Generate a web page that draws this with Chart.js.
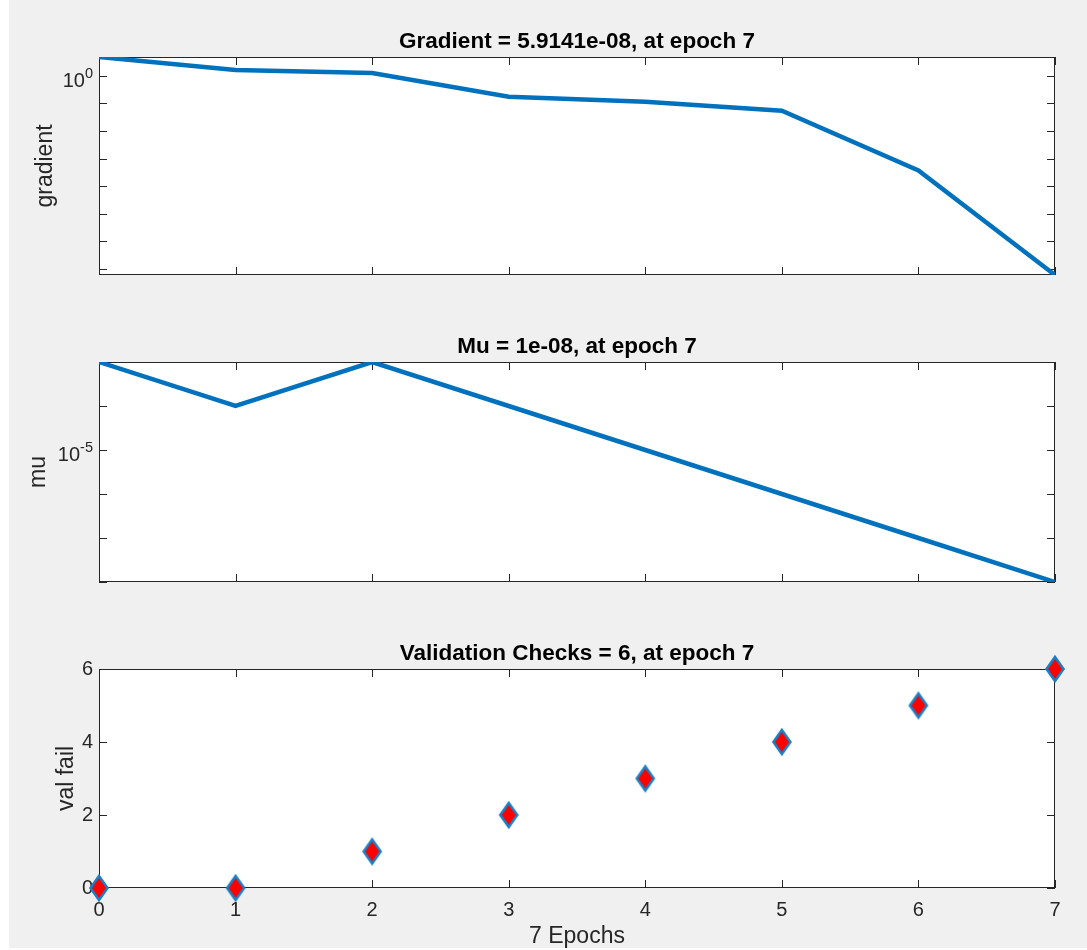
<!DOCTYPE html>
<html>
<head>
<meta charset="utf-8">
<script src="https://cdn.jsdelivr.net/npm/chart.js@4.4.1/dist/chart.umd.min.js"></script>
<style>
  html, body { margin: 0; padding: 0; background: #fff; }
  #fig { position: absolute; left: 9px; top: 0; width: 1078px; height: 948px; background: #f0f0f0; }
  canvas { position: absolute; left: 0; }
</style>
</head>
<body>
<div id="fig"></div>
<canvas id="gradChart" width="1087" height="300" style="top:0px"></canvas>
<canvas id="muChart" width="1087" height="300" style="top:310px"></canvas>
<canvas id="valChart" width="1087" height="340" style="top:610px"></canvas>
<script>
// values
const epochs = [0, 1, 2, 3, 4, 5, 6, 7];
const gradient = [4.85, 1.65, 1.28, 0.174, 0.115, 0.0545, 3.7e-4, 5.9141e-8];
const mu = [1e-3, 1e-4, 1e-3, 1e-4, 1e-5, 1e-6, 1e-7, 1e-8];
const valFail = [0, 0, 1, 2, 3, 4, 5, 6];

const titles = ["Gradient = 5.9141e-08, at epoch 7", "Mu = 1e-08, at epoch 7", "Validation Checks = 6, at epoch 7"];
const yLabels = ["gradient", "mu", "val fail"];
const xLabel = "7 Epochs";
const gradTickExps = [0];
const muTickExps = [-5];

const FONT = "'Liberation Sans', Arial, Helvetica, sans-serif";
const BLUE = "#0072BD";
const AXIS = "#262626";

Chart.defaults.font.family = FONT;
Chart.defaults.animation = false;

function pts(ys) {
    return epochs.map((e, i) => ({ x: e, y: ys[i] }));
}

// every decade between min and max gets a tick mark
function decadeTicks(scale) {
    const lo = Math.ceil(Math.log10(scale.min) - 1e-9);
    const hi = Math.floor(Math.log10(scale.max) + 1e-9);
    const t = [];
    for (let e = lo; e <= hi; e++) t.push({ value: Math.pow(10, e) });
    scale.ticks = t;
}

// matlab style box, inward ticks, title and 10^n labels
const matlabAxes = {
    id: "matlabAxes",
    beforeDraw(chart) {
        const a = chart.chartArea;
        const ctx = chart.ctx;
        ctx.save();
        ctx.fillStyle = "#fff";
        ctx.fillRect(a.left, a.top, a.right - a.left, a.bottom - a.top);
        ctx.restore();
    },
    beforeDatasetsDraw(chart) {
        const a = chart.chartArea;
        const ctx = chart.ctx;
        const xs = chart.scales.x, ys = chart.scales.y;
        const len = 8;
        ctx.save();
        ctx.strokeStyle = AXIS;
        ctx.lineWidth = 1;
        ctx.strokeRect(a.left + 0.5, a.top + 0.5, a.right - a.left - 1, a.bottom - a.top - 1);
        ctx.beginPath();
        xs.ticks.forEach(t => {
            const px = Math.round(xs.getPixelForValue(t.value)) + 0.5;
            ctx.moveTo(px, a.bottom); ctx.lineTo(px, a.bottom - len);
            ctx.moveTo(px, a.top); ctx.lineTo(px, a.top + len);
        });
        ys.ticks.forEach(t => {
            const py = Math.round(ys.getPixelForValue(t.value)) + 0.5;
            ctx.moveTo(a.left, py); ctx.lineTo(a.left + len, py);
            ctx.moveTo(a.right, py); ctx.lineTo(a.right - len, py);
        });
        ctx.stroke();
        ctx.restore();
    },
    afterDraw(chart, args, opts) {
        const a = chart.chartArea;
        const ctx = chart.ctx;
        ctx.save();
        ctx.fillStyle = "#000";
        ctx.font = "bold 22.5px " + FONT;
        ctx.textAlign = "center";
        ctx.textBaseline = "alphabetic";
        ctx.fillText(opts.title, (a.left + a.right) / 2, a.top - 9);

        if (opts.exps) {
            const ys = chart.scales.y;
            ctx.fillStyle = AXIS;
            ctx.textAlign = "left";
            opts.exps.forEach(ex => {
                const py = ys.getPixelForValue(Math.pow(10, ex));
                const sup = String(ex);
                ctx.font = "20px " + FONT;
                const wBase = ctx.measureText("10").width;
                ctx.font = "14.5px " + FONT;
                const wSup = ctx.measureText(sup).width;
                const right = a.left - 6;
                ctx.font = "20px " + FONT;
                ctx.fillText("10", right - wSup - wBase, py + 11);
                ctx.font = "14.5px " + FONT;
                ctx.fillText(sup, right - wSup, py + 2);
            });
        }
        ctx.restore();
    }
};

function hiddenX() {
    return {
        type: "linear", min: 0, max: 7,
        ticks: { stepSize: 1, display: false },
        grid: { display: false, drawTicks: false },
        border: { display: false },
        afterFit: s => { s.height = 0; }
    };
}

function yTitle(text, off) {
    return { display: true, text: text, color: AXIS, font: { size: 23 }, padding: { top: off, bottom: 0 } };
}

function logChart(id, ys, label, exps, title, pad, titleOff) {
    return new Chart(document.getElementById(id), {
        type: "line",
        data: {
            datasets: [{
                data: pts(ys),
                borderColor: BLUE,
                borderWidth: 4.5,
                pointRadius: 0,
                fill: false,
                tension: 0
            }]
        },
        options: {
            responsive: false,
            layout: { padding: pad },
            plugins: {
                legend: { display: false },
                tooltip: { enabled: false },
                matlabAxes: { title: title, exps: exps }
            },
            scales: {
                x: hiddenX(),
                y: {
                    type: "logarithmic",
                    min: Math.min(...ys),
                    max: Math.max(...ys),
                    afterBuildTicks: decadeTicks,
                    afterFit: s => { s.width = 99; },
                    ticks: { display: false },
                    grid: { display: false, drawTicks: false },
                    border: { display: false },
                    title: yTitle(label, titleOff)
                }
            }
        },
        plugins: [matlabAxes]
    });
}

logChart("gradChart", gradient, yLabels[0], gradTickExps, titles[0],
    { top: 57, right: 32, bottom: 25, left: 0 }, 32);
logChart("muChart", mu, yLabels[1], muTickExps, titles[1],
    { top: 52, right: 32, bottom: 28, left: 0 }, 25);

// red diamond marker with blue edge
function diamond() {
    const c = document.createElement("canvas");
    c.width = 22; c.height = 30;
    const g = c.getContext("2d");
    g.beginPath();
    g.moveTo(11, 3);
    g.lineTo(19.5, 15);
    g.lineTo(11, 27);
    g.lineTo(2.5, 15);
    g.closePath();
    g.fillStyle = "#ff0000";
    g.fill();
    g.lineWidth = 2.5;
    g.strokeStyle = "#1a7fc4";
    g.stroke();
    return c;
}

new Chart(document.getElementById("valChart"), {
    type: "scatter",
    data: {
        datasets: [{
            data: pts(valFail),
            pointStyle: diamond(),
            pointRadius: 11,
            clip: false
        }]
    },
    options: {
        responsive: false,
        layout: { padding: { top: 59, right: 32, bottom: 0, left: 0 } },
        plugins: {
            legend: { display: false },
            tooltip: { enabled: false },
            matlabAxes: { title: titles[2] }
        },
        scales: {
            x: {
                type: "linear", min: 0, max: 7,
                ticks: { stepSize: 1, color: AXIS, font: { size: 20 }, padding: 10 },
                grid: { display: false, drawTicks: false },
                border: { display: false },
                title: { display: true, text: xLabel, color: AXIS, font: { size: 23 }, padding: { top: 0, bottom: 0 } },
                afterFit: s => { s.height = 62; }
            },
            y: {
                type: "linear", min: 0, max: 6,
                ticks: { stepSize: 2, color: AXIS, font: { size: 20 }, padding: 6 },
                grid: { display: false, drawTicks: false },
                border: { display: false },
                title: yTitle(yLabels[2], 53),
                afterFit: s => { s.width = 99; }
            }
        }
    },
    plugins: [matlabAxes]
});
</script>
</body>
</html>
